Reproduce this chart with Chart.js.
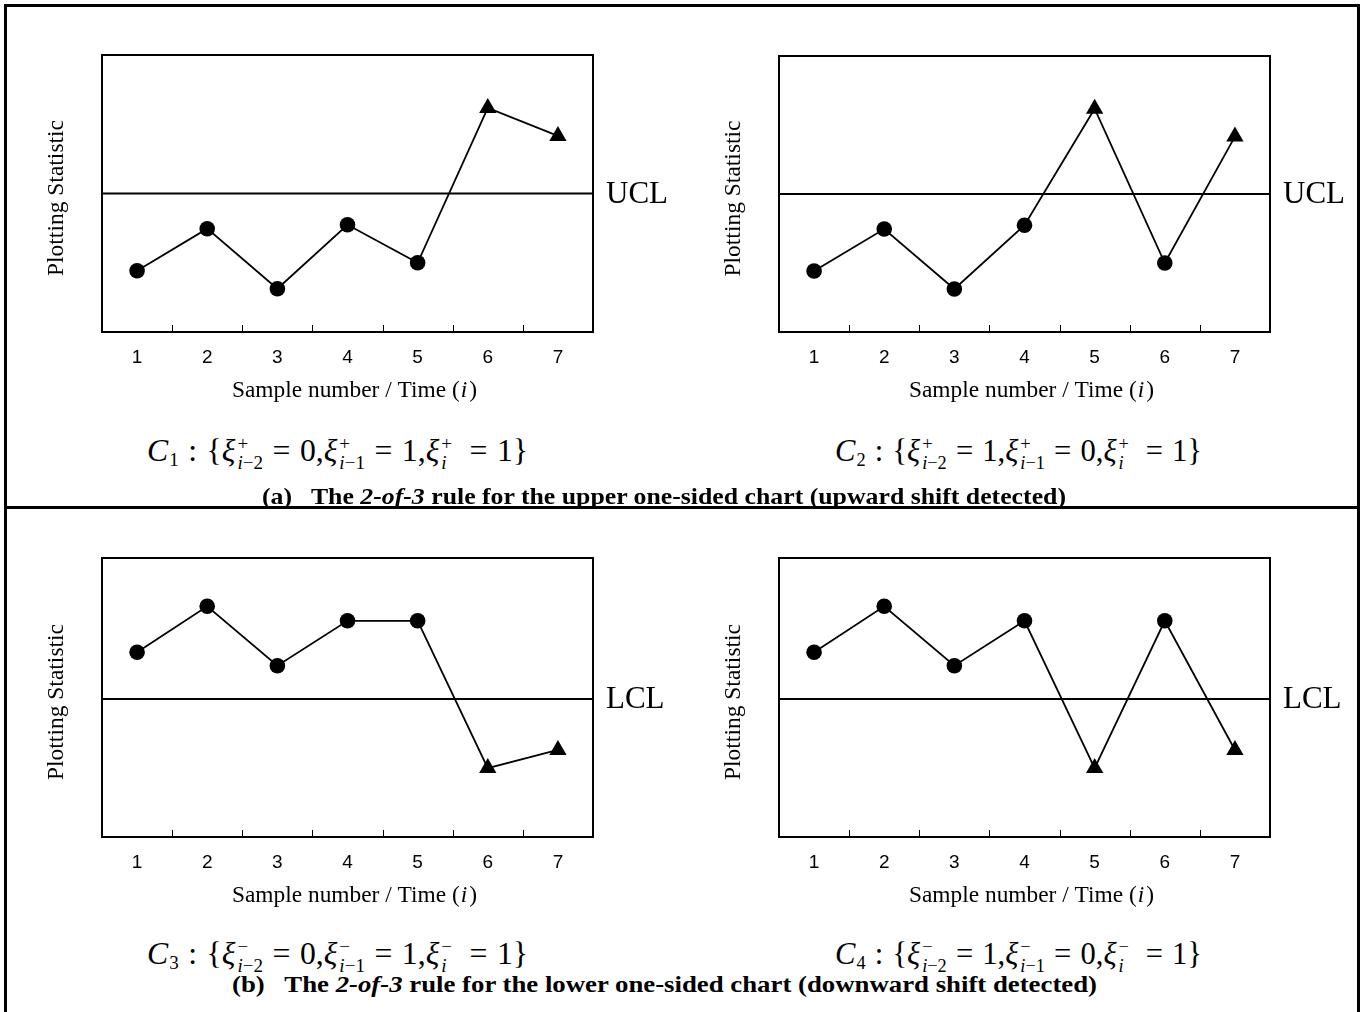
<!DOCTYPE html>
<html><head><meta charset="utf-8">
<script src="https://cdn.jsdelivr.net/npm/chart.js@4.4.1/dist/chart.umd.min.js"></script>
<style>
html,body{margin:0;padding:0;background:#fff;width:1364px;height:1012px;overflow:hidden;}
.frame{position:absolute;left:4px;top:4px;width:1356px;height:1030px;border:3px solid #000;box-sizing:border-box;}
.divider{position:absolute;left:4px;top:506px;width:1356px;height:3px;background:#000;}
canvas{position:absolute;}
.formula{position:absolute;display:inline-block;transform-origin:0 50%;font-family:"Liberation Serif","Times New Roman",serif;font-size:31px;white-space:pre;line-height:1;color:#000;}
.formula sub.n{font-size:0.6em;vertical-align:-0.25em;font-style:normal;margin-left:1px;}
.op{margin:0 0.3em;}
.ss{display:inline-block;vertical-align:-0.42em;font-size:0.6em;line-height:1.0;text-align:left;margin-left:2px;}
.ss span{display:block;}
.caption{position:absolute;display:inline-block;transform-origin:0 50%;font-family:"Liberation Serif","Times New Roman",serif;font-weight:bold;font-size:24px;white-space:pre;line-height:1;color:#000;}
</style>
</head>
<body>
<div class="frame"></div>
<div class="divider"></div>
<canvas id="c1" width="680" height="420" style="left:0px;top:0px"></canvas>
<canvas id="c2" width="680" height="420" style="left:677px;top:1px"></canvas>
<canvas id="c3" width="680" height="420" style="left:0px;top:503px"></canvas>
<canvas id="c4" width="680" height="420" style="left:677px;top:503px"></canvas>

<div class="formula" id="f1" style="top:435px"><i>C</i><sub class="n">1</sub><span class="op">:</span>{<i>ξ</i><span class="ss"><span>+</span><span><i>i</i>−2</span></span><span class="op">=</span>0,<i>ξ</i><span class="ss"><span>+</span><span><i>i</i>−1</span></span><span class="op">=</span>1,<i>ξ</i><span class="ss"><span>+</span><span><i>i</i></span></span> <span class="op">=</span>1}</div>
<div class="formula" id="f2" style="top:435px"><i>C</i><sub class="n">2</sub><span class="op">:</span>{<i>ξ</i><span class="ss"><span>+</span><span><i>i</i>−2</span></span><span class="op">=</span>1,<i>ξ</i><span class="ss"><span>+</span><span><i>i</i>−1</span></span><span class="op">=</span>0,<i>ξ</i><span class="ss"><span>+</span><span><i>i</i></span></span> <span class="op">=</span>1}</div>
<div class="caption" id="capA" style="top:484px">(a)   The <i>2-of-3</i> rule for the upper one-sided chart (upward shift detected)</div>
<div class="formula" id="f3" style="top:938px"><i>C</i><sub class="n">3</sub><span class="op">:</span>{<i>ξ</i><span class="ss"><span>−</span><span><i>i</i>−2</span></span><span class="op">=</span>0,<i>ξ</i><span class="ss"><span>−</span><span><i>i</i>−1</span></span><span class="op">=</span>1,<i>ξ</i><span class="ss"><span>−</span><span><i>i</i></span></span> <span class="op">=</span>1}</div>
<div class="formula" id="f4" style="top:938px"><i>C</i><sub class="n">4</sub><span class="op">:</span>{<i>ξ</i><span class="ss"><span>−</span><span><i>i</i>−2</span></span><span class="op">=</span>1,<i>ξ</i><span class="ss"><span>−</span><span><i>i</i>−1</span></span><span class="op">=</span>0,<i>ξ</i><span class="ss"><span>−</span><span><i>i</i></span></span> <span class="op">=</span>1}</div>
<div class="caption" id="capB" style="top:972px">(b)   The <i>2-of-3</i> rule for the lower one-sided chart (downward shift detected)</div>

<script>
// ---- data ----
const categories = ['1', '2', '3', '4', '5', '6', '7'];
const c1Values = [22.1, 37.3, 15.6, 38.7, 25.0, 80.9, 70.8];
const c2Values = [22.1, 37.3, 15.6, 38.7, 80.9, 25.0, 70.8];
const c3Values = [66.2, 82.7, 61.4, 77.5, 77.5, 24.7, 31.2];
const c4Values = [66.2, 82.7, 61.4, 77.5, 24.7, 77.5, 31.2];
const upperLimit = 50;
const lowerLimit = 49.5;
const limitLabels = ['UCL', 'LCL'];
const yAxisTitle = 'Plotting Statistic';
const xAxisTitleParts = ['Sample number / Time (', 'i', ')'];
const yRange = [0, 100];

const SERIF = '"Liberation Serif", "Times New Roman", serif';
const SANS = '"Liberation Sans", Arial, sans-serif';

function fitBlock(id, left, width) {
  const el = document.getElementById(id);
  el.style.left = left + 'px';
  const w = el.getBoundingClientRect().width;
  el.style.transform = 'scaleX(' + (width / w) + ')';
}
fitBlock('f1', 147, 381);
fitBlock('f2', 835, 367);
fitBlock('f3', 147, 381);
fitBlock('f4', 835, 367);
fitBlock('capA', 262, 804);
fitBlock('capB', 232, 865);

const decoPlugin = {
  id: 'deco',
  beforeDatasetsDraw(chart, args, opts) {
    const {ctx, chartArea: a, scales: {y}} = chart;
    const py = y.getPixelForValue(opts.limit);
    ctx.save();
    ctx.strokeStyle = '#000';
    ctx.lineWidth = 2;
    ctx.beginPath();
    ctx.moveTo(a.left, py);
    ctx.lineTo(a.right, py);
    ctx.stroke();
    ctx.restore();
  },
  afterDraw(chart, args, opts) {
    const {ctx, chartArea: a, scales: {x, y}} = chart;
    ctx.save();
    ctx.strokeStyle = '#000';
    ctx.lineWidth = 2;
    ctx.strokeRect(a.left, a.top, a.right - a.left, a.bottom - a.top);
    ctx.lineWidth = 1;
    ctx.beginPath();
    for (let i = 0; i < categories.length - 1; i++) {
      const tx = Math.round((x.getPixelForTick(i) + x.getPixelForTick(i + 1)) / 2) + 0.5;
      ctx.moveTo(tx, a.bottom);
      ctx.lineTo(tx, a.bottom - 7);
    }
    ctx.stroke();
    ctx.fillStyle = '#000';
    // limit label
    const py = y.getPixelForValue(opts.limit);
    ctx.font = '31px ' + SERIF;
    ctx.textBaseline = 'middle';
    ctx.textAlign = 'left';
    ctx.fillText(opts.label, a.right + 13, py + 1);
    // y-axis title (rotated)
    ctx.save();
    ctx.translate(57, (a.top + a.bottom) / 2 + 4.5);
    ctx.rotate(-Math.PI / 2);
    ctx.textAlign = 'center';
    ctx.font = '23.5px ' + SERIF;
    ctx.fillText(yAxisTitle, 0, 0);
    ctx.restore();
    // x-axis title with italic i
    const fN = '23px ' + SERIF, fI = 'italic 23px ' + SERIF;
    ctx.font = fN;
    const w0 = ctx.measureText(xAxisTitleParts[0]).width;
    const w2 = ctx.measureText(xAxisTitleParts[2]).width;
    ctx.font = fI;
    const w1 = ctx.measureText(xAxisTitleParts[1]).width + 3;
    const total = w0 + w1 + w2;
    const target = 245;
    const cx = (a.left + a.right) / 2 + 7;
    const ty = a.bottom + 59;
    ctx.translate(cx - target / 2, ty);
    ctx.scale(target / total, 1);
    ctx.font = fN; ctx.fillText(xAxisTitleParts[0], 0, 0);
    ctx.font = fI; ctx.fillText(xAxisTitleParts[1], w0 + 1, 0);
    ctx.font = fN; ctx.fillText(xAxisTitleParts[2], w0 + w1, 0);
    ctx.restore();
  }
};

function makePanel(id, values, limit, label, side, boxBottom) {
  const isSignal = (v) => side === 'upper' ? v > limit : v < limit;
  return new Chart(document.getElementById(id), {
    type: 'line',
    data: {
      labels: categories,
      datasets: [{
        data: values,
        borderColor: '#000',
        borderWidth: 1.8,
        backgroundColor: '#000',
        pointBackgroundColor: '#000',
        pointBorderColor: '#000',
        pointBorderWidth: 0,
        tension: 0,
        pointStyle: (c) => isSignal(c.raw) ? 'triangle' : 'circle',
        pointRadius: (c) => isSignal(c.raw) ? 10 : 7.8,
        pointHoverRadius: (c) => isSignal(c.raw) ? 10 : 7.8
      }]
    },
    options: {
      responsive: false,
      animation: false,
      events: [],
      layout: {padding: {left: 40, right: 87, top: 55, bottom: 0}},
      plugins: {
        legend: {display: false},
        tooltip: {enabled: false},
        deco: {limit: limit, label: label}
      },
      scales: {
        x: {
          type: 'category',
          offset: true,
          grid: {display: false, drawTicks: false},
          border: {display: false},
          ticks: {color: '#000', font: {family: SANS, size: 19}, padding: 14, maxRotation: 0},
          afterFit: (s) => { s.height = 420 - boxBottom; }
        },
        y: {
          min: yRange[0], max: yRange[1],
          grid: {display: false, drawTicks: false},
          border: {display: false},
          ticks: {display: false},
          title: {display: false, text: yAxisTitle},
          afterFit: (s) => { s.width = 62; }
        }
      }
    },
    plugins: [decoPlugin]
  });
}

makePanel('c1', c1Values, upperLimit, limitLabels[0], 'upper', 332);
makePanel('c2', c2Values, upperLimit, limitLabels[0], 'upper', 331);
makePanel('c3', c3Values, lowerLimit, limitLabels[1], 'lower', 334);
makePanel('c4', c4Values, lowerLimit, limitLabels[1], 'lower', 334);
</script>
</body></html>
